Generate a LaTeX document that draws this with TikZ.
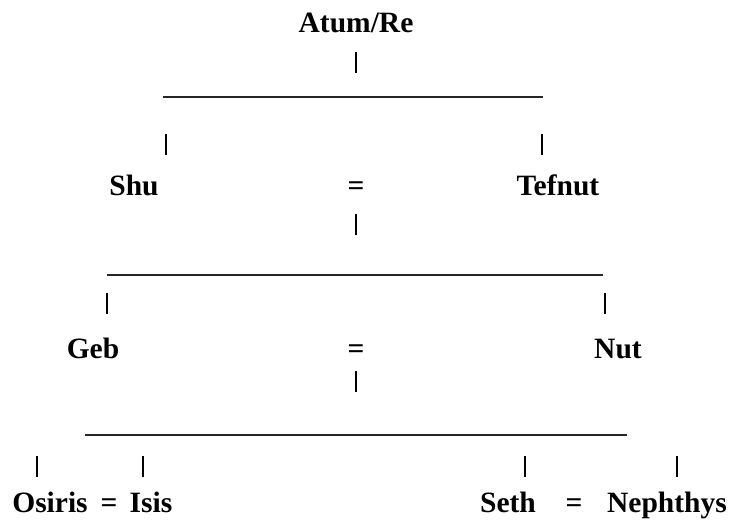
\documentclass[tikz,border=0pt]{standalone}
\usepackage{fontspec}
\setmainfont{Liberation Serif}

\tikzset{
  god/.style={anchor=base, inner sep=0pt, font=\fontsize{29.5}{34}\selectfont\bfseries},
  bar/.style={line width=2.6pt},
  rule/.style={line width=1.5pt, black!85}
}

\begin{document}
\begin{tikzpicture}[x=1pt, y=-1pt]
        \useasboundingbox (0,0) rectangle (730,521);

        % first generation
        \node[god] (atum) at (356,33) {Atum/Re};
        \node[god] (shu) at (134,196) {Shu};
        \node[god] (eq1) at (356,196) {=};
        \node[god] (tefnut) at (558,196) {Tefnut};

        % second generation
        \node[god] (geb) at (93,358) {Geb};
        \node[god] (eq2) at (356,358) {=};
        \node[god] (nut) at (618,358) {Nut};

        % third generation
        \node[god] (osiris) at (50,512) {Osiris};
        \node[god] (eq3) at (109,512) {=};
        \node[god] (isis) at (151,512) {Isis};
        \node[god] (seth) at (508,512) {Seth};
        \node[god] (eq4) at (574,512) {=};
        \node[god] (nephthys) at (667,512) {Nephthys};

        % horizontal rules
        \foreach \n/\l/\r/\y in {r1/163/543/97, r2/107/603/275, r3/85/627/435} {
            \coordinate (\n w) at (\l,\y);
            \coordinate (\n e) at (\r,\y);
            \draw[rule] (\n w) -- (\n e);
        }

        % vertical bars
        \foreach \n/\x/\y in {v1/356/52, v2/166/134, v3/542/134, v4/356/214,
                              v5/107/293, v6/605/293, v7/356/371,
                              v8/37/456, v9/143/456, v10/525/456, v11/677/456} {
            \coordinate (\n t) at (\x,\y);
            \coordinate (\n b) at (\x,\y+21);
            \draw[bar] (\n t) -- (\n b);
        }
\end{tikzpicture}
\end{document}
